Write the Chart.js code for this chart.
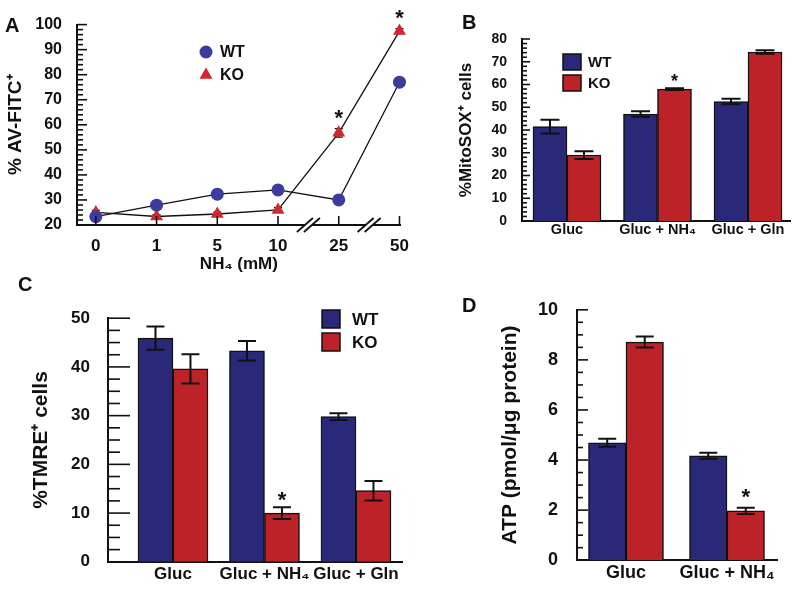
<!DOCTYPE html>
<html>
<head>
<meta charset="utf-8">
<script src="https://cdn.jsdelivr.net/npm/chart.js@4.4.1/dist/chart.umd.min.js"></script>
<style>
  body { margin: 0; background: #fff; }
  #fig { position: relative; width: 796px; height: 590px; overflow: hidden; }
  #fig canvas { position: absolute; }
  .tag { position: absolute; font: bold 20px 'Liberation Sans', Arial, sans-serif; line-height: 1; color: #111; }
</style>
</head>
<body>
<div id="fig">
  <canvas id="chartA" width="420" height="285" style="left:0;top:0"></canvas>
  <canvas id="chartB" width="376" height="290" style="left:420px;top:0"></canvas>
  <canvas id="chartC" width="470" height="300" style="left:0;top:290px"></canvas>
  <canvas id="chartD" width="326" height="310" style="left:470px;top:280px"></canvas>
  <div class="tag" style="left:5px;top:15px">A</div>
  <div class="tag" style="left:462px;top:12px">B</div>
  <div class="tag" style="left:18px;top:274px">C</div>
  <div class="tag" style="left:462px;top:295px">D</div>
</div>
<script>
const FONT = "'Liberation Sans', Arial, Helvetica, sans-serif"
Chart.defaults.font.family = FONT
Chart.defaults.font.weight = 'bold'
Chart.defaults.color = '#111'
Chart.defaults.animation = false
Chart.defaults.plugins.legend.display = false
Chart.defaults.plugins.tooltip.enabled = false

const WT_BAR = '#2a2879'
const KO_BAR = '#be2229'
const WT_DOT = '#3b3c9e'
const KO_DOT = '#d0282d'

// A: AV-FITC+ cells vs NH4 dose
const doseLabels = ['0', '1', '5', '10', '25', '50']
const wtAnnexin = [23.3, 27.9, 32.3, 34.0, 30.0, 77.0]
const wtAnnexinErr = [0.8, 0.7, 0.7, 0.8, 0.7, 1.0]
const koAnnexin = [25.0, 23.4, 24.4, 26.0, 56.8, 97.4]
const koAnnexinErr = [0.8, 0.7, 0.7, 0.9, 1.7, 1.0]
const koAnnexinStars = [4, 5]

// B: MitoSOX+ cells
const mitoSoxGroups = ['Gluc', 'Gluc + NH₄', 'Gluc + Gln']
const wtMitoSox = [41.5, 47.0, 52.5]
const wtMitoSoxErr = [3.0, 1.2, 1.2]
const koMitoSox = [29.0, 58.0, 74.3]
const koMitoSoxErr = [1.7, 0.4, 0.8]
const koMitoSoxStars = [1]

// C: TMRE+ cells
const tmreGroups = ['Gluc', 'Gluc + NH₄', 'Gluc + Gln']
const wtTmre = [45.9, 43.3, 29.8]
const wtTmreErr = [2.4, 2.0, 0.7]
const koTmre = [39.6, 10.0, 14.6]
const koTmreErr = [3.0, 1.2, 2.0]
const koTmreStars = [1]

// D: ATP
const atpGroups = ['Gluc', 'Gluc + NH₄']
const wtAtp = [4.69, 4.17]
const wtAtpErr = [0.16, 0.12]
const koAtp = [8.71, 1.97]
const koAtpErr = [0.22, 0.12]
const koAtpStars = [1]

function groupAxis(labels, first, min, max, size, padding, height) {
  return {
    type: 'linear', min, max, offset: false,
    grid: { display: false, drawTicks: false, offset: false },
    border: { color: '#111', width: 2 },
    afterBuildTicks: s => { s.ticks = labels.map((l, i) => ({ value: i + first })) },
    ticks: { callback: (v, i) => labels[i], font: { size }, padding, maxRotation: 0, autoSkip: false },
    afterFit: s => { s.height = height }
  }
}

function valueAxis(min, max, step, size, padding, width, title, titleSize, titlePad) {
  return {
    min, max,
    grid: { display: false, drawTicks: false },
    border: { color: '#111', width: 2 },
    ticks: { stepSize: step, font: { size }, padding },
    afterFit: s => { s.width = width },
    title: { display: true, text: title, font: { size: titleSize }, padding: { top: titlePad, bottom: 0 } }
  }
}

function barSets(wt, wtErr, ko, koErr, koStars, thickness) {
  const pts = vals => vals.map((v, i) => ({ x: i + 1, y: v }))
  const common = { borderColor: '#111', borderWidth: 1.5, barThickness: thickness }
  return [
    { label: 'WT', data: pts(wt), errors: wtErr, stars: [], backgroundColor: WT_BAR, ...common },
    { label: 'KO', data: pts(ko), errors: koErr, stars: koStars, backgroundColor: KO_BAR, ...common }
  ]
}

function marker(ctx, style, x, y, r) {
  ctx.beginPath()
  if (style === 'triangle') {
    ctx.moveTo(x, y - r)
    ctx.lineTo(x + r * 0.866, y + r * 0.5)
    ctx.lineTo(x - r * 0.866, y + r * 0.5)
    ctx.closePath()
  } else {
    ctx.arc(x, y, r, 0, Math.PI * 2)
  }
  ctx.fill()
}

function drawErrors(chart, p) {
  const ctx = chart.ctx
  const ys = chart.scales.y
  ctx.save()
  ctx.strokeStyle = '#111'
  ctx.lineWidth = p.errWidth
  chart.data.datasets.forEach((ds, d) => {
    chart.getDatasetMeta(d).data.forEach((el, i) => {
      const v = ds.data[i].y
      const top = ys.getPixelForValue(v + ds.errors[i])
      const bot = ys.getPixelForValue(v - ds.errors[i])
      const h = p.cap / 2
      ctx.beginPath()
      ctx.moveTo(el.x, top); ctx.lineTo(el.x, bot)
      ctx.moveTo(el.x - h, top); ctx.lineTo(el.x + h, top)
      ctx.moveTo(el.x - h, bot); ctx.lineTo(el.x + h, bot)
      ctx.stroke()
    })
  })
  ctx.restore()
}

function drawExtras(chart, p) {
  const ctx = chart.ctx
  const area = chart.chartArea
  const xs = chart.scales.x
  const ys = chart.scales.y
  ctx.save()
  ctx.strokeStyle = '#111'
  ctx.fillStyle = '#111'
  ctx.lineWidth = 1.6

  // y ticks point into the plot, minor ones shorter
  const n = Math.round((ys.max - ys.min) / p.minorStep)
  for (let k = 0; k <= n; k++) {
    const y = ys.getPixelForValue(ys.min + k * p.minorStep)
    const len = k % p.minorPerMajor === 0 ? p.majorLen : p.minorLen
    ctx.beginPath(); ctx.moveTo(area.left, y); ctx.lineTo(area.left + len, y); ctx.stroke()
  }
  if (p.xTickLen) {
    xs.ticks.forEach(t => {
      const x = xs.getPixelForValue(t.value)
      ctx.beginPath(); ctx.moveTo(x, area.bottom); ctx.lineTo(x, area.bottom - p.xTickLen); ctx.stroke()
    })
  }

  // axis breaks
  ;(p.breaks || []).forEach(b => {
    const x = xs.getPixelForValue(b)
    const y = area.bottom
    ctx.fillStyle = '#fff'
    ctx.fillRect(x - 3.5, y - 3, 7, 6)
    ctx.lineWidth = 1.8
    ;[-3.5, 3.5].forEach(d => {
      ctx.beginPath(); ctx.moveTo(x + d - 8, y + 7); ctx.lineTo(x + d + 8, y - 7); ctx.stroke()
    })
  })
  ctx.fillStyle = '#111'

  // significance stars
  ctx.textAlign = 'center'
  ctx.textBaseline = 'alphabetic'
  ctx.font = `bold ${p.starSize}px ${FONT}`
  chart.data.datasets.forEach((ds, d) => {
    const meta = chart.getDatasetMeta(d)
    ds.stars.forEach(i => {
      const top = ys.getPixelForValue(ds.data[i].y + ds.errors[i])
      ctx.fillText('*', meta.data[i].x, top - p.starGap + p.starSize * 0.57)
    })
  })

  // legend
  const lg = p.legend
  if (lg) {
    ctx.textAlign = 'left'
    ctx.textBaseline = 'middle'
    ctx.font = `bold ${lg.font}px ${FONT}`
    chart.data.datasets.forEach((ds, d) => {
      const y = lg.y + d * lg.dy
      if (lg.kind === 'box') {
        ctx.fillStyle = ds.backgroundColor
        ctx.fillRect(lg.x, y, lg.w, lg.h)
        ctx.lineWidth = 1.5
        ctx.strokeRect(lg.x, y, lg.w, lg.h)
        ctx.fillStyle = '#111'
        ctx.fillText(ds.label, lg.textX, y + lg.h / 2 + 1)
      } else {
        ctx.fillStyle = ds.pointBackgroundColor
        marker(ctx, ds.pointStyle, lg.x, y, ds.pointRadius)
        ctx.fillStyle = '#111'
        ctx.fillText(ds.label, lg.textX, y + 1)
      }
    })
  }
  ctx.restore()
}

function extras(p) {
  return {
    id: 'extras',
    beforeDatasetsDraw(chart) { if (p.errorsBehind) drawErrors(chart, p) },
    afterDatasetsDraw(chart) {
      if (!p.errorsBehind) drawErrors(chart, p)
      drawExtras(chart, p)
    }
  }
}

const baseOptions = { responsive: false, devicePixelRatio: 1 }

// A
new Chart(document.getElementById('chartA'), {
  type: 'line',
  data: {
    datasets: [
      { label: 'WT', data: wtAnnexin.map((v, i) => ({ x: i, y: v })), errors: wtAnnexinErr, stars: [],
        borderColor: '#111', borderWidth: 1.3, pointStyle: 'circle', pointRadius: 6.5,
        pointBackgroundColor: WT_DOT, pointBorderColor: WT_DOT, pointBorderWidth: 0, clip: false },
      { label: 'KO', data: koAnnexin.map((v, i) => ({ x: i, y: v })), errors: koAnnexinErr, stars: koAnnexinStars,
        borderColor: '#111', borderWidth: 1.3, pointStyle: 'triangle', pointRadius: 7.5,
        pointBackgroundColor: KO_DOT, pointBorderColor: KO_DOT, pointBorderWidth: 0, clip: false }
    ]
  },
  options: {
    ...baseOptions,
    layout: { padding: { left: 0, right: 16, top: 20, bottom: 0 } },
    scales: {
      x: { ...groupAxis(doseLabels, 0, -0.31, 5.02, 17, 11, 60),
           title: { display: true, text: 'NH₄ (mM)', font: { size: 17 }, padding: { top: 0, bottom: 10 } } },
      y: valueAxis(20, 100, 10, 16, 15, 77, '% AV-FITC⁺', 19, 4)
    }
  },
  plugins: [extras({ errorsBehind: true, errWidth: 1.3, cap: 8, minorStep: 2, minorPerMajor: 5, majorLen: 10, minorLen: 6,
    xTickLen: 9, breaks: [3.5, 4.5], starSize: 22, starGap: 16,
    legend: { kind: 'marker', x: 206, y: 52, dy: 23, textX: 220, font: 16 } })]
})

// B
new Chart(document.getElementById('chartB'), {
  type: 'bar',
  data: { datasets: barSets(wtMitoSox, wtMitoSoxErr, koMitoSox, koMitoSoxErr, koMitoSoxStars, 34) },
  options: {
    ...baseOptions,
    layout: { padding: { left: 0, right: 6, top: 39, bottom: 0 } },
    scales: {
      x: groupAxis(mitoSoxGroups, 1, 0.503, 3.464, 14.5, 0, 69),
      y: valueAxis(0, 80, 10, 14, 15, 102, '%MitoSOX⁺ cells', 17, 36)
    }
  },
  plugins: [extras({ errWidth: 2, cap: 19, minorStep: 2, minorPerMajor: 5, majorLen: 8, minorLen: 5,
    starSize: 18, starGap: 11,
    legend: { kind: 'box', x: 143, y: 54, w: 18, h: 16, dy: 21, textX: 168, font: 15 } })]
})

// C
new Chart(document.getElementById('chartC'), {
  type: 'bar',
  data: { datasets: barSets(wtTmre, wtTmreErr, koTmre, koTmreErr, koTmreStars, 35) },
  options: {
    ...baseOptions,
    layout: { padding: { left: 0, right: 68, top: 18, bottom: 0 } },
    scales: {
      x: groupAxis(tmreGroups, 1, 0.29, 3.503, 17, 2, 24),
      y: valueAxis(0, 50, 10, 17, 18, 108, '%TMRE⁺ cells', 21, 29)
    }
  },
  plugins: [extras({ errWidth: 2, cap: 18, minorStep: 2.5, minorPerMajor: 4, majorLen: 22, minorLen: 12,
    starSize: 22, starGap: 13,
    legend: { kind: 'box', x: 322, y: 20, w: 18, h: 18, dy: 23, textX: 352, font: 17 } })]
})

// D
new Chart(document.getElementById('chartD'), {
  type: 'bar',
  data: { datasets: barSets(wtAtp, wtAtpErr, koAtp, koAtpErr, koAtpStars, 37.5) },
  options: {
    ...baseOptions,
    layout: { padding: { left: 0, right: 19, top: 18, bottom: 0 } },
    scales: {
      x: groupAxis(atpGroups, 1, 0.515, 2.495, 18, 2, 26),
      y: valueAxis(0, 10, 2, 18, 19, 107, 'ATP (pmol/μg protein)', 21, 28)
    }
  },
  plugins: [extras({ errWidth: 2, cap: 18, minorStep: 0.5, minorPerMajor: 4, majorLen: 11, minorLen: 6,
    starSize: 22, starGap: 16 })]
})
</script>
</body>
</html>
